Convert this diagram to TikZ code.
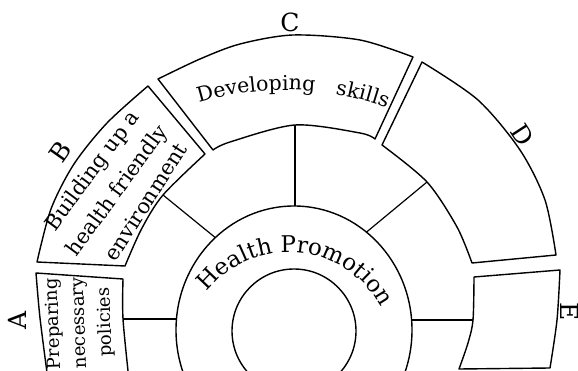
\documentclass[tikz,border=0pt]{standalone}
\usepackage{fontspec}
\setmainfont{DejaVu Serif}
\usetikzlibrary{decorations.text}
\newcommand\myHPfont{\fontsize{23}{23}\selectfont}
\newcommand\myCfont{\fontsize{20.5}{20.5}\selectfont}
\begin{document}
\begin{tikzpicture}[x=1pt,y=-1pt,
  box/.style={line width=1.4pt,line join=round},
  spoke/.style={line width=1.2pt},
  lbl/.style={font=\fontsize{25}{25}\selectfont,inner sep=0pt},
  btext/.style={font=\fontsize{21}{21}\selectfont,inner sep=0pt},
  arctext/.style={decorate,decoration={text along path,text align=center,text={#1}}}]
\useasboundingbox (0,0) rectangle (578,371);
\clip (0,0) rectangle (578,371);

% spoke end points
\coordinate (Aspk) at (123,319);
\coordinate (Mleft) at (176.5,319);
\coordinate (Bspk) at (163,195);
\coordinate (Mbl) at (215.3,237.6);
\coordinate (Cspk) at (295,125);
\coordinate (Mtop) at (295,206);
\coordinate (Dspk) at (427,182);
\coordinate (Mbr) at (366.5,232.1);
\coordinate (Mright) at (411.5,320);
\coordinate (Espk) at (473,320);

% box A
\draw[box] plot[smooth] coordinates {(48,380) (40,318) (36,273)} -- (123,279)
  -- plot[smooth] coordinates {(123,279) (Aspk) (129,380)};
% box B
\draw[box] plot[smooth] coordinates {(37,262) (51,209) (74,164) (107,123) (148,86)} -- (205,154)
  -- plot[smooth] coordinates {(205,154) (Bspk) (141.5,229) (125,266)} -- cycle;
% box C
\draw[box] plot[smooth] coordinates {(158,79) (200,59) (240,44) (293,35) (360,40) (413,57)} -- (375,139)
  -- plot[smooth] coordinates {(375,139) (360,133) (Cspk) (230,142) (213,150)} -- cycle;
% box D
\draw[box] plot[smooth] coordinates {(422,62) (478,100) (520,150) (545,200) (556,255)} -- (472,263)
  -- plot[smooth] coordinates {(472,263) (457,227) (Dspk) (382,145)} -- cycle;
% box E
\draw[box] (474,277) -- (560,270) -- plot[smooth] coordinates {(560,270) (557,320) (550,368)}
  -- (459,369) -- plot[smooth] coordinates {(459,369) (468,343) (Espk) (474,277)} -- cycle;

% circles
\draw[box] (294,330) ellipse[x radius=118pt,y radius=124pt];
\draw[box] (294,331) circle[radius=62pt];

% spokes
\draw[spoke] (Aspk) -- (Mleft);
\draw[spoke] (Bspk) -- (Mbl);
\draw[spoke] (Cspk) -- (Mtop);
\draw[spoke] (Dspk) -- (Mbr);
\draw[spoke] (Mright) -- (Espk);

% curved texts
\path[arctext={|\myHPfont|Health Promotion}] (289,356) ++(170:104pt) arc[start angle=170,end angle=0,radius=104pt];
\path[arctext={|\myCfont|Developing}] (285.5,389) ++(125.6:299pt) arc[start angle=125.6,end angle=65.6,radius=299pt];
\path[arctext={|\myCfont|skills}] (285.5,389) ++(100.3:299pt) arc[start angle=100.3,end angle=50.3,radius=299pt];

% box B text
\node[btext,rotate=53.4] (tB1) at (93.5,171.5) {Building up a};
\node[btext,rotate=53.8] (tB2) at (118,191.5) {health friendly};
\node[btext,rotate=57.3] (tB3) at (145.7,201.7) {environment};

% box A text
\node[rotate=92,align=center,inner sep=0pt,font=\fontsize{18}{26}\selectfont] (tA) at (80,323) {Preparing\\necessary\\policies};

% letters
\node[lbl,rotate=90] (lA) at (17,320) {A};
\node[lbl,rotate=55] (lB) at (60,152) {B};
\node[lbl] (lC) at (290,22) {C};
\node[lbl,rotate=-57] (lD) at (523,135) {D};
\node[lbl,rotate=-90] (lE) at (569.5,312) {E};
\end{tikzpicture}
\end{document}
